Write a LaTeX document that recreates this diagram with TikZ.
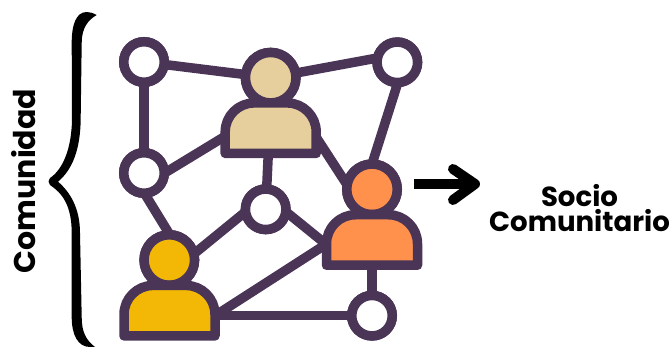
\documentclass[tikz,border=0pt]{standalone}
\usepackage{fontspec}
\setmainfont{Poppins}[BoldFont={Poppins Bold}]
\definecolor{netpurple}{HTML}{4B3557}
\definecolor{beigefill}{HTML}{E6CF9C}
\definecolor{yellowfill}{HTML}{F3B705}
\definecolor{orangefill}{HTML}{FF914D}
\tikzset{
  edge/.style={draw=netpurple,line width=9.5pt},
  hub/.style={circle,draw=netpurple,fill=white,line width=9.5pt,minimum size=40.5pt,inner sep=0pt,outer sep=0pt},
  head/.style={circle,draw=netpurple,line width=9.5pt,minimum size=50.5pt,inner sep=0pt,outer sep=0pt},
  bodybox/.style={rectangle,minimum width=91pt,minimum height=50.5pt,inner sep=0pt,outer sep=0pt},
  bodyline/.style={draw=netpurple,line width=9.5pt,line join=round},
  label/.style={font=\bfseries,text=black,inner sep=0pt},
  pointer/.style={draw=black,line width=10pt}
}
\newcommand{\personbody}[2]{%
  \path[bodyline,fill=#2] (#1.south west) {[rounded corners=29pt] -- (#1.north west) -- (#1.north east)} -- (#1.south east) -- cycle;}
\begin{document}
\begin{tikzpicture}[x=1pt,y=-1pt]
\useasboundingbox (0,0) rectangle (672,347);
% brace
\fill[black] (86.7,12) .. controls (76,12) and (71.7,25) .. (71.7,43)
  -- (72,117) .. controls (72,150) and (62,170) .. (50,178)
  .. controls (48,180) and (48,183) .. (50,185)
  .. controls (62,193) and (71.7,205) .. (71.7,233)
  -- (71.7,317) .. controls (71.7,335) and (78,347) .. (90,347)
  -- (95,347) .. controls (86,340) and (81.7,332) .. (81.7,317)
  -- (80,233) .. controls (80,208) and (70,192) .. (58,181.7)
  .. controls (72,170) and (80.7,150) .. (80.7,117)
  -- (81.7,43) .. controls (81.7,28) and (88,20) .. (96.7,15)
  .. controls (93,13) and (90,12) .. (86.7,12) -- cycle;
% node positions
\node[hub,name=n1] at (144,62) {};
\node[hub,name=n2] at (144,173) {};
\node[hub,name=n3] at (397.3,62.3) {};
\node[hub,name=n4] at (265.7,209.3) {};
\node[hub,name=n5] at (372,315.7) {};
\node[head,name=hb] at (270.7,77.7) {};
\node[head,name=hy] at (169.3,260) {};
\node[head,name=ho] at (372,189.3) {};
\node[bodybox,name=bb] at (270.7,128.2) {};
\node[bodybox,name=by] at (169.5,310.7) {};
\node[bodybox,name=bo] at (372,240) {};
% connectors
\draw[edge] (n1) -- (hb);
\draw[edge] (hb) -- ([yshift=8pt]n3.center);
\draw[edge] (n1) -- (n2);
\draw[edge] ([yshift=-12.6pt]n2.center) -- ([yshift=-8pt]bb.west);
\draw[edge] ([xshift=-12pt]n2.center) -- ([xshift=16pt]hy.center);
\draw[edge] ([xshift=7pt]n3.center) -- ([xshift=-8pt]ho.center);
\draw[edge] ([yshift=-9pt]bb.east) -- ([xshift=-22pt]ho.center);
\draw[edge] ([xshift=-2.4pt]bb.south) -- (n4);
\draw[edge] ([yshift=14pt]n4.center) -- ([yshift=-14pt]hy.center);
\draw[edge] ([yshift=14pt]n4.center) -- ([yshift=-4.6pt]bo.west);
\draw[edge] ([yshift=-5pt]by.east) -- ([yshift=-4pt]bo.west);
\draw[edge] ([yshift=-5pt]by.east) -- (n5);
\draw[edge] (bo) -- (n5);
% redraw nodes on top
\node[hub] at (n1) {};
\node[hub] at (n2) {};
\node[hub] at (n3) {};
\node[hub] at (n4) {};
\node[hub] at (n5) {};
\node[head,fill=beigefill] at (hb) {};
\node[head,fill=yellowfill] at (hy) {};
\node[head,fill=orangefill] at (ho) {};
\personbody{bb}{beigefill}
\personbody{by}{yellowfill}
\personbody{bo}{orangefill}
% arrow
\coordinate (as) at (414,184);
\coordinate (ae) at (475,184);
\coordinate (at1) at (453,169);
\coordinate (at2) at (453,200);
\draw[pointer] (as) -- (ae);
\draw[pointer,line cap=round,line join=round] (at1) -- (ae) -- (at2);
% labels
\node[label,font=\bfseries\fontsize{27.6}{25}\selectfont,align=center,name=socio] at (579.5,208) {Socio\\Comunitario};
\node[label,font=\bfseries\fontsize{30}{30}\selectfont,rotate=90,name=comu] at (24,181) {Comunidad};
\end{tikzpicture}
\end{document}
